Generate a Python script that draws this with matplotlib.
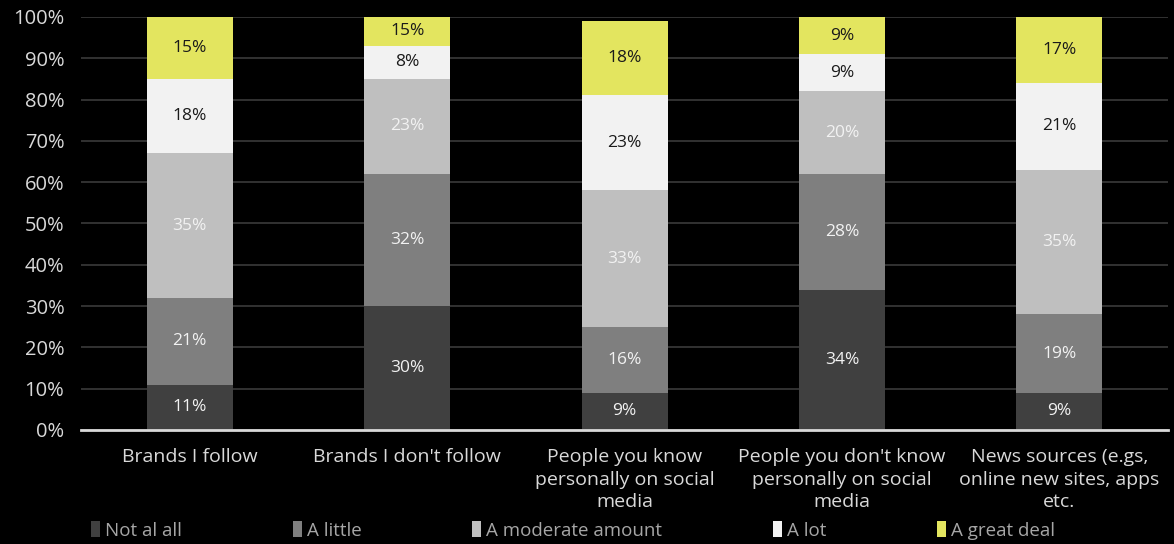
import matplotlib.pyplot as plt
import numpy as np

categories = ["Brands I follow", "Brands I don't follow",
              "People you know\npersonally on social\nmedia",
              "People you don't know\npersonally on social\nmedia",
              "News sources (e.gs,\nonline new sites, apps\netc."]
series = ["Not al all", "A little", "A moderate amount", "A lot", "A great deal"]
not_at_all = [11, 30, 9, 34, 9]
a_little = [21, 32, 16, 28, 19]
moderate = [35, 23, 33, 20, 35]
a_lot = [18, 8, 23, 9, 21]
great_deal = [15, 15, 18, 9, 17]
yticks = [0, 10, 20, 30, 40, 50, 60, 70, 80, 90, 100]

colors = ["#404040", "#7f7f7f", "#bfbfbf", "#f2f2f2", "#e3e55f"]
label_colors = ["#f2f2f2", "#f2f2f2", "#f2f2f2", "#1a1a1a", "#1a1a1a"]

plt.rcParams['font.family'] = ['Open Sans', 'DejaVu Sans']
fig = plt.figure(figsize=(11.74, 5.44), dpi=100, facecolor='black')
ax = fig.add_axes([0.069, 0.2096, 0.926, 0.7592])
ax.set_facecolor('black')

x = np.arange(len(categories))
bottom = np.zeros(len(categories))
data = [not_at_all, a_little, moderate, a_lot, great_deal]
for vals, name, col, lc in zip(data, series, colors, label_colors):
    vals = np.array(vals, float)
    ax.bar(x, vals, 0.395, bottom=bottom, color=col, label=name, zorder=3)
    top = np.minimum(bottom + vals, 100)
    for xi, b, t, v in zip(x, bottom, top, vals):
        ax.text(xi, (b + t) / 2, f"{int(v)}%", ha='center', va='center',
                color=lc, fontsize=12.5, zorder=4)
    bottom = bottom + vals

ax.set_ylim(0, 100)
ax.set_xlim(-0.5, 4.5)
ax.set_yticks(yticks)
ax.set_yticklabels([f"{t}%" for t in yticks])
ax.set_xticks(x)
ax.set_xticklabels(categories, linespacing=1.32)
ax.tick_params(axis='y', length=0, colors='#d9d9d9', labelsize=14.5, pad=12)
ax.tick_params(axis='x', length=0, colors='#d9d9d9', labelsize=14, pad=13)
ax.grid(axis='y', color='#3a3a3a', linewidth=1.2, zorder=0)
for s in ['top', 'right', 'left']:
    ax.spines[s].set_visible(False)
ax.spines['bottom'].set_color('#d9d9d9')
ax.spines['bottom'].set_linewidth(2)
ax.spines['bottom'].set_zorder(5)

leg = fig.legend(loc='center', bbox_to_anchor=(0.488, 0.025), ncol=5, frameon=False,
                 fontsize=13.5, handlelength=0.5, handleheight=0.9, handletextpad=0.25,
                 columnspacing=5.9, labelcolor='#a6a6a6')

fig.savefig('out.png', dpi=100, facecolor='black')
